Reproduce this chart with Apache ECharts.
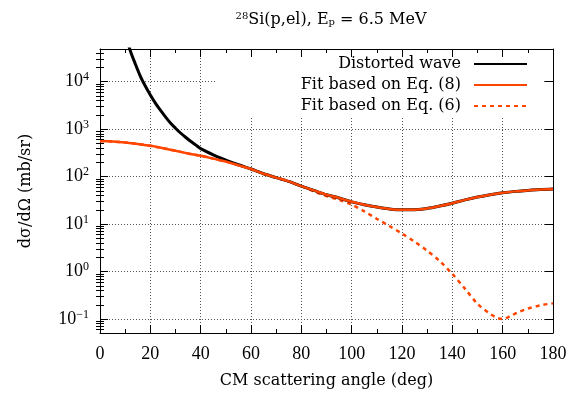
<!DOCTYPE html>
<html>
<head>
<meta charset="utf-8">
<script src="https://cdn.jsdelivr.net/npm/echarts@6/dist/echarts.min.js"></script>
<style>html,body{margin:0;padding:0;background:#fff;}#c{width:570px;height:394px;}</style>
</head>
<body>
<div id="c"></div>
<script>
// Angles (deg) and cross sections (mb/sr)
var dwAngles = [10,12,14,16,18,20,22,24,26,28,30,32,34,36,38,40,45,50,55,60,65,70,75,80,85,90,95,100,105,110,115,120,125,130,135,140,145,150,155,160,165,170,175,180];
var dwValues = [105000,45700,24000,13200,8130,5250,3550,2510,1820,1350,1050,832,676,556,468,389,288,224,178,145,115,95.5,79.4,63.1,51.3,41.7,35.5,29.5,25.7,22.9,20.9,20.0,20.2,21.4,24.0,27.5,32.4,37.2,41.7,45.7,49.0,51.3,53.7,55.0];

var eq8Angles = [0,5,10,15,20,25,30,35,40,45,50,55,60,65,70,75,80,85,90,95,100,105,110,115,120,125,130,135,140,145,150,155,160,165,170,175,180];
var eq8Values = [562,550,525,490,447,398,351,309,275,240,209,174,145,115,95.5,79.4,63.1,51.3,41.7,35.5,29.5,25.7,22.9,20.9,20.0,20.2,21.4,24.0,27.5,32.4,37.2,41.7,45.7,49.0,51.3,53.7,55.0];

var eq6Angles = [0,5,10,15,20,25,30,35,40,45,50,55,60,65,70,75,80,85,90,95,100,105,110,115,120,125,130,135,140,145,150,155,158,160,163,166,170,175,180];
var eq6Values = [562,550,525,490,447,398,351,309,275,240,209,174,145,115,95.5,79.4,63.1,49.0,38.9,32.4,25.7,18.6,12.9,9.12,6.31,4.27,2.75,1.66,0.891,0.437,0.209,0.129,0.105,0.100,0.115,0.138,0.166,0.195,0.214];

var seriesNames = ['Distorted wave', 'Fit based on Eq. (8)', 'Fit based on Eq. (6)'];
var yMajor = [0.1,1,10,100,1000,10000];
var yMinor = [0.06,0.07,0.08,0.09];
yMajor.forEach(function(d){ for (var k=2;k<=9;k++){ yMinor.push(+(d*k).toPrecision(3)); } });

var YMIN = Math.pow(10,-1.294), YMAX = Math.pow(10,4.69);
var FONT = 'DejaVu Serif';
var NUMFONT = 'Liberation Serif';

function pairs(a,b){ return a.map(function(x,i){ return [x,b[i]]; }); }
function expOf(v){ var e = Math.round(Math.log10(v)); return String(e).replace('-', '−'); }

var chart = echarts.init(document.getElementById('c'), null, {renderer:'canvas'});
var tickBase = {inside:true, lineStyle:{color:'#000', width:1}};
var gridLine = {show:true, lineStyle:{color:'#555', width:1, type:[1,2]}};
var option = {
  animation:false,
  backgroundColor:'#fff',
  textStyle:{fontFamily:FONT},
  title:{
    text:'{s|28}Si(p,el), E{b|p} = 6.5 MeV',
    left:326, top:6, textAlign:'center',
    textStyle:{fontFamily:FONT, fontSize:16, fontWeight:'normal', color:'#000',
      rich:{s:{fontFamily:FONT,fontSize:10,padding:[0,0,7,0],verticalAlign:'bottom'}, b:{fontFamily:FONT,fontSize:10,padding:[6,0,0,0],verticalAlign:'top'}}}
  },
  grid:{left:100, right:17, top:49, bottom:60, show:false},
  legend:{
    orient:'vertical', right:28, top:49, z:4,
    backgroundColor:'#fff', padding:[5,14,0,5],
    align:'right', itemWidth:53, itemHeight:12, itemGap:1, itemStyle:{opacity:0},
    textStyle:{fontFamily:FONT, fontSize:16, lineHeight:20, color:'#000', width:240, align:'right', padding:[0,8,0,0]},
    data:seriesNames
  },
  xAxis:[
    {type:'value', position:'bottom', min:0, max:180, interval:20, z:1,
     axisLine:{show:true, onZero:false, lineStyle:{color:'#000', width:1}},
     axisTick:Object.assign({length:8}, tickBase),
     minorTick:{show:true, splitNumber:2, length:4, lineStyle:{color:'#000'}},
     axisLabel:{fontFamily:NUMFONT, fontSize:18, color:'#000', margin:12},
     splitLine:gridLine,
     name:'CM scattering angle (deg)', nameLocation:'middle', nameGap:40,
     nameTextStyle:{fontFamily:FONT, fontSize:16, color:'#000'}},
    {type:'value', position:'top', min:0, max:180, interval:20, z:6,
     axisLine:{show:true, onZero:false, lineStyle:{color:'#000', width:1}},
     axisTick:Object.assign({length:8}, tickBase),
     minorTick:{show:true, splitNumber:2, length:4, lineStyle:{color:'#000'}},
     axisLabel:{show:false}, splitLine:{show:false}}
  ],
  yAxis:[
    {type:'log', logBase:10, min:YMIN, max:YMAX, position:'left', z:1,
     axisLine:{show:true, onZero:false, lineStyle:{color:'#000', width:1}},
     axisTick:Object.assign({length:8, customValues:yMajor}, tickBase),
     axisLabel:{customValues:yMajor, fontFamily:NUMFONT, fontSize:18, color:'#000', margin:11,
       formatter:function(v){ return '10{e|' + expOf(v) + '}'; },
       rich:{e:{fontFamily:NUMFONT, fontSize:12, padding:[0,0,9,0], verticalAlign:'bottom'}}},
     splitLine:gridLine,
     name:'dσ/dΩ (mb/sr)', nameLocation:'middle', nameGap:66, nameRotate:90,
     nameTextStyle:{fontFamily:FONT, fontSize:16, color:'#000'}},
    {type:'log', logBase:10, min:YMIN, max:YMAX, position:'right', z:6,
     axisLine:{show:true, onZero:false, lineStyle:{color:'#000', width:1}},
     axisTick:Object.assign({length:8, customValues:yMajor}, tickBase),
     axisLabel:{show:false}, splitLine:{show:false}},
    {type:'log', logBase:10, min:YMIN, max:YMAX, position:'left', z:6,
     axisLine:{show:false},
     axisTick:Object.assign({length:4, customValues:yMinor}, tickBase),
     axisLabel:{show:false}, splitLine:{show:false}},
    {type:'log', logBase:10, min:YMIN, max:YMAX, position:'right', z:6,
     axisLine:{show:false},
     axisTick:Object.assign({length:4, customValues:yMinor}, tickBase),
     axisLabel:{show:false}, splitLine:{show:false}}
  ],
  series:[
    {name:seriesNames[2], type:'line', data:pairs(eq6Angles, eq6Values), symbol:'none', smooth:0.3, z:2,
     lineStyle:{color:'#ff4500', width:2.5, type:[4,4]}, itemStyle:{color:'#ff4500'}},
    {name:seriesNames[0], type:'line', data:pairs(dwAngles, dwValues), symbol:'none', smooth:0.3, z:3,
     lineStyle:{color:'#000', width:3}, itemStyle:{color:'#000'}},
    {name:seriesNames[1], type:'line', data:pairs(eq8Angles, eq8Values), symbol:'none', smooth:0.3, z:4,
     lineStyle:{color:'#ff4500', width:2.5}, itemStyle:{color:'#ff4500'}}
  ]
};
chart.setOption(option);
</script>
</body>
</html>
